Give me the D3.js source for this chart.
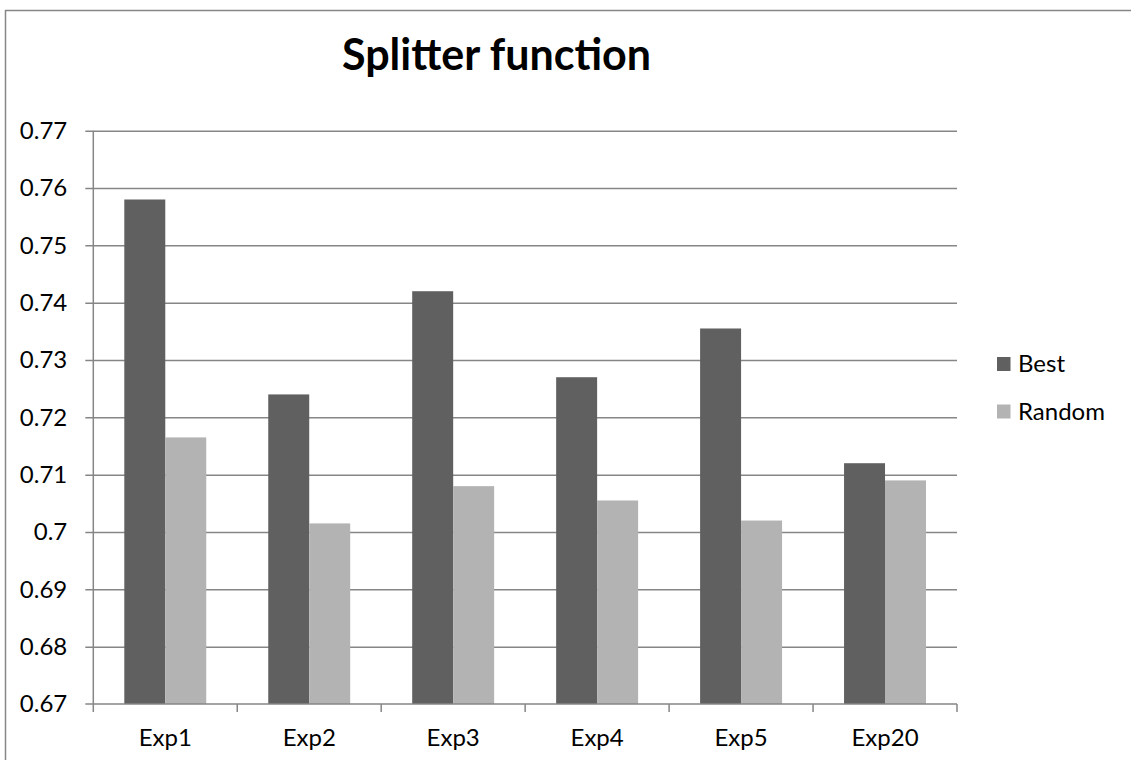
<!DOCTYPE html>
<html>
<head>
<meta charset="utf-8">
<script src="https://cdn.jsdelivr.net/npm/d3@7"></script>
<style>
  body { margin: 0; background: #fff; }
  text { font-family: Lato, "Open Sans", sans-serif; fill: #000; }
</style>
</head>
<body>
<div id="chart"></div>
<script>
// data
const categories = ['Exp1', 'Exp2', 'Exp3', 'Exp4', 'Exp5', 'Exp20'];
const seriesNames = ['Best', 'Random'];
const bestValues = [0.758, 0.724, 0.742, 0.727, 0.7355, 0.712];
const randomValues = [0.7165, 0.7015, 0.708, 0.7055, 0.702, 0.709];
const yTicks = [0.67, 0.68, 0.69, 0.70, 0.71, 0.72, 0.73, 0.74, 0.75, 0.76, 0.77];
const colors = ['#606060', '#b3b3b3'];

const W = 1131, H = 760;
const margin = {top: 130.7, left: 93.3, right: 1131 - 957, bottom: 760 - 704};
const w = W - margin.left - margin.right;
const h = H - margin.top - margin.bottom;

const svg = d3.select('#chart').append('svg')
  .attr('width', W)
  .attr('height', H);

// outer frame (only top and left edges visible)
svg.append('line').attr('x1', 5).attr('x2', W).attr('y1', 10.5).attr('y2', 10.5)
  .style('stroke', '#868686').style('stroke-width', 1.5);
svg.append('line').attr('x1', 5.5).attr('x2', 5.5).attr('y1', 10).attr('y2', H)
  .style('stroke', '#868686').style('stroke-width', 1.5);

svg.append('text')
  .attr('x', 496.5).attr('y', 70)
  .attr('text-anchor', 'middle')
  .style('font-size', '43px').style('font-weight', 'bold')
  .text('Splitter function');

const g = svg.append('g').attr('transform', `translate(${margin.left},${margin.top})`);

const x0 = d3.scaleBand().domain(categories).range([0, w]).padding(0);
const gap = 31;
const x1 = d3.scaleBand().domain(seriesNames).range([gap, x0.bandwidth() - gap]).padding(0);
const y = d3.scaleLinear().domain([0.67, 0.77]).range([h, 0]);

// gridlines + y axis
const yAxis = g.append('g').call(
  d3.axisLeft(y).tickValues(yTicks).tickSize(8).tickPadding(18)
    .tickFormat(d => d3.format('.2~f')(d)));
yAxis.select('.domain').remove();
yAxis.selectAll('.tick line').attr('x2', w).attr('x1', -8)
  .style('stroke', '#868686').style('stroke-width', 1.5);
yAxis.selectAll('.tick text').style('font-size', '24px').style('fill', '#000');
yAxis.selectAll('.tick').filter(d => d === 0.67).select('line').remove();

// vertical axis line
g.append('line').attr('x1', 0).attr('x2', 0).attr('y1', 0).attr('y2', h)
  .style('stroke', '#868686').style('stroke-width', 1.5);

// bars
const series = [bestValues, randomValues];
const groups = g.selectAll('.cat').data(categories).join('g')
  .attr('class', 'cat')
  .attr('transform', d => `translate(${x0(d)},0)`);
groups.selectAll('rect')
  .data((d, i) => seriesNames.map((s, j) => ({s, v: series[j][i], c: colors[j]})))
  .join('rect')
  .attr('x', d => x1(d.s))
  .attr('width', x1.bandwidth())
  .attr('y', d => y(d.v))
  .attr('height', d => h - y(d.v))
  .style('fill', d => d.c);

// x axis
const xAxisG = g.append('g').attr('transform', `translate(0,${h})`);
xAxisG.call(d3.axisBottom(x0).tickSize(0).tickPadding(25));
xAxisG.select('.domain').remove();
xAxisG.selectAll('.tick text').style('font-size', '24px').style('fill', '#000');
const bounds = d3.range(categories.length + 1).map(i => i * x0.step());
xAxisG.selectAll('.sep').data(bounds).join('line').attr('class', 'sep')
  .attr('x1', d => d).attr('x2', d => d).attr('y1', 0).attr('y2', 8)
  .style('stroke', '#868686').style('stroke-width', 1.5);
// 0.67 grid line drawn as axis line
xAxisG.append('line').attr('x1', -8).attr('x2', w).attr('y1', 0).attr('y2', 0)
  .style('stroke', '#868686').style('stroke-width', 1.5);

// legend
const legend = svg.append('g').attr('transform', 'translate(997,357)');
const items = legend.selectAll('g').data(seriesNames).join('g')
  .attr('transform', (d, i) => `translate(0,${i * 47.5})`);
items.append('rect').attr('width', 13.5).attr('height', 14)
  .style('fill', (d, i) => colors[i]);
items.append('text').attr('x', 21).attr('y', 7).attr('dy', '0.35em')
  .style('font-size', '24px').text(d => d);
</script>
</body>
</html>
